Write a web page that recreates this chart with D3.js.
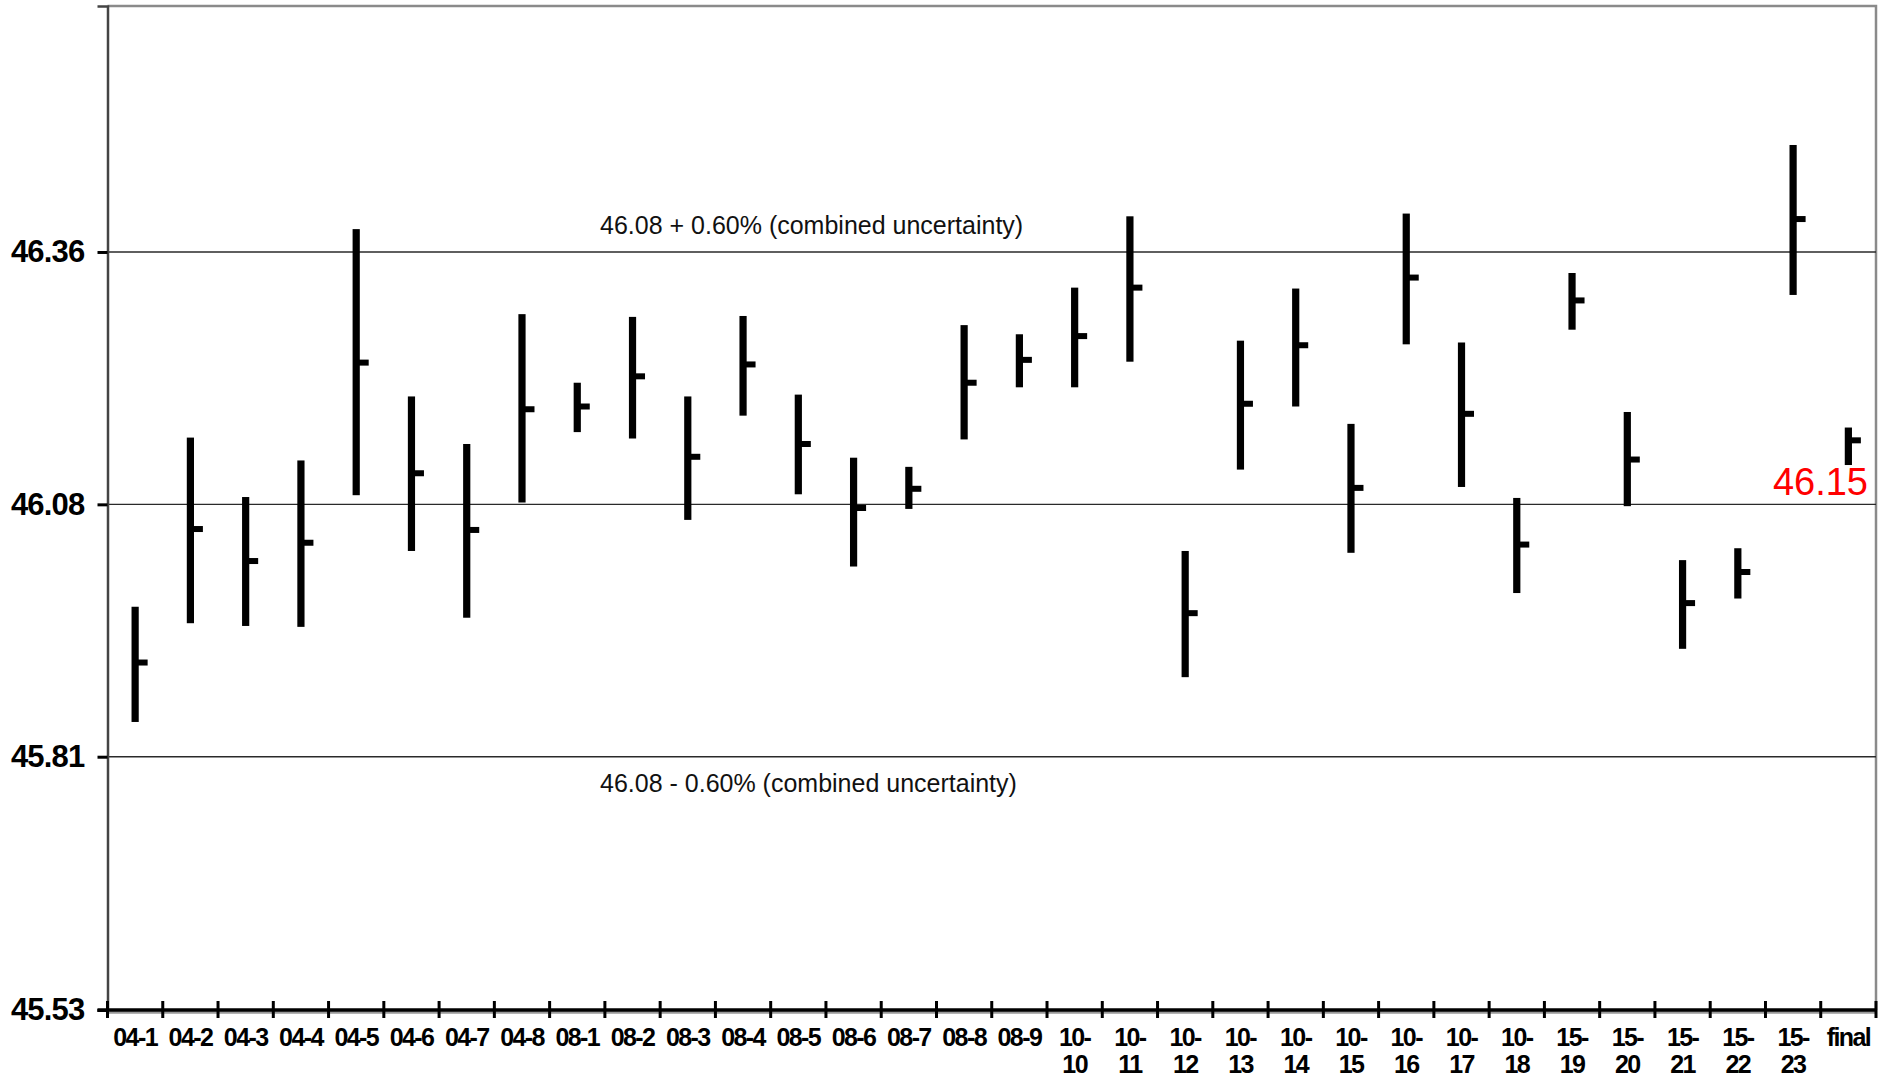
<!DOCTYPE html>
<html>
<head>
<meta charset="utf-8">
<script src="https://cdn.jsdelivr.net/npm/d3@7/dist/d3.min.js"></script>
<style>
  html, body { margin: 0; padding: 0; background: #fff; }
  svg { display: block; font-family: "Liberation Sans", Arial, sans-serif; }
</style>
</head>
<body>
<svg id="chart" width="1894" height="1078"></svg>
<script>
// Sample runs: high / low / close for each run, plus the final result
const categories = ["04-1","04-2","04-3","04-4","04-5","04-6","04-7","04-8",
  "08-1","08-2","08-3","08-4","08-5","08-6","08-7","08-8","08-9",
  "10-10","10-11","10-12","10-13","10-14","10-15","10-16","10-17","10-18",
  "15-19","15-20","15-21","15-22","15-23","final"];

const highs = [45.968, 46.153, 46.088, 46.128, 46.381, 46.198, 46.146, 46.288,
  46.213, 46.285, 46.198, 46.286, 46.200, 46.131, 46.121, 46.276, 46.266,
  46.317, 46.395, 46.029, 46.259, 46.316, 46.168, 46.398, 46.257, 46.087,
  46.333, 46.181, 46.019, 46.032, 46.473, 46.164];

const lows = [45.842, 45.950, 45.947, 45.946, 46.090, 46.029, 45.956, 46.082,
  46.159, 46.152, 46.063, 46.177, 46.091, 46.012, 46.075, 46.151, 46.208,
  46.208, 46.236, 45.891, 46.118, 46.187, 46.027, 46.255, 46.099, 45.983,
  46.271, 46.078, 45.922, 45.977, 46.309, 46.123];

const closes = [45.907, 46.053, 46.018, 46.038, 46.235, 46.114, 46.052, 46.184,
  46.187, 46.220, 46.132, 46.233, 46.146, 46.076, 46.097, 46.213, 46.238,
  46.264, 46.317, 45.961, 46.190, 46.254, 46.098, 46.328, 46.179, 46.036,
  46.303, 46.129, 45.972, 46.006, 46.392, 46.150];

// Reference value and its combined uncertainty band
const referenceValue = 46.08;
const uncertaintyPct = 0.60;

// Value axis
const yDomain = [45.527, 46.625];
const yTicks = [45.527, 45.804, 46.08, 46.356];
const yTickLabels = ["45.53", "45.81", "46.08", "46.36"];

const svg = d3.select("#chart");
const W = 1894, H = 1078;
const margin = { top: 6, right: 18, bottom: 68, left: 107.5 };
const plotL = margin.left, plotR = W - margin.right;
const plotT = margin.top, plotB = H - margin.bottom;

const x = d3.scaleBand().domain(categories).range([plotL, plotR]).padding(0);
const y = d3.scaleLinear().domain(yDomain).range([plotB, plotT]);
const cx = d => x(d) + x.bandwidth() / 2;

// Plot frame (top and right)
svg.append("path")
  .attr("d", `M${plotL},${plotT}H${plotR}V${plotB}`)
  .attr("fill", "none").attr("stroke", "#8a8a8a").attr("stroke-width", 2.5);

// Horizontal gridlines at the value-axis ticks
svg.append("g").selectAll("line").data(yTicks).join("line")
  .attr("x1", plotL).attr("x2", plotR)
  .attr("y1", d => y(d)).attr("y2", d => y(d))
  .attr("stroke", "#2a2a2a").attr("stroke-width", 1.4);

// Left axis
const yAxis = svg.append("g")
  .attr("transform", `translate(${plotL},0)`)
  .call(d3.axisLeft(y).tickValues(yTicks)
    .tickFormat((d, i) => yTickLabels[i]).tickSize(10).tickPadding(13));
yAxis.select(".domain").attr("stroke", "#444").attr("stroke-width", 2.5);
yAxis.selectAll(".tick line").attr("stroke", "#000").attr("stroke-width", 3);
yAxis.selectAll(".tick text")
  .attr("font-family", "'Liberation Sans', Arial, sans-serif")
  .attr("font-size", 31).attr("font-weight", "bold")
  .attr("letter-spacing", "-0.8px").attr("fill", "#000");

// Uncertainty band labels
const upperVal = yTicks[3], lowerVal = yTicks[1];
svg.append("text")
  .attr("x", 600).attr("y", y(upperVal) - 18)
  .attr("font-size", 25).attr("fill", "#111")
  .text(`${referenceValue.toFixed(2)} + ${uncertaintyPct.toFixed(2)}% (combined uncertainty)`);
svg.append("text")
  .attr("x", 600).attr("y", y(lowerVal) + 35)
  .attr("font-size", 25).attr("fill", "#111")
  .text(`${referenceValue.toFixed(2)} - ${uncertaintyPct.toFixed(2)}% (combined uncertainty)`);

// High-low bars with a close tick on the right
const rows = categories.map((c, i) => ({ c, hi: highs[i], lo: lows[i], cl: closes[i] }));
const barW = 7.2, tickLen = 12.5, tickH = 6;
const g = svg.append("g");
g.selectAll("rect.hl").data(rows).join("rect").attr("class", "hl")
  .attr("x", d => cx(d.c) - barW / 2)
  .attr("y", d => y(d.hi))
  .attr("width", barW)
  .attr("height", d => y(d.lo) - y(d.hi))
  .attr("fill", "#000");
g.selectAll("rect.cl").data(rows).join("rect").attr("class", "cl")
  .attr("x", d => cx(d.c))
  .attr("y", d => y(d.cl) - tickH / 2)
  .attr("width", tickLen)
  .attr("height", tickH)
  .attr("fill", "#000");

// Final result label
const last = rows[rows.length - 1];
svg.append("text")
  .attr("x", 1868).attr("y", 495)
  .attr("text-anchor", "end")
  .attr("font-size", 38).attr("fill", "#ff0000")
  .text(last.cl.toFixed(2));

// Bottom axis: thick baseline, ticks at category boundaries
svg.append("line")
  .attr("x1", plotL).attr("x2", plotR)
  .attr("y1", plotB + 2.5).attr("y2", plotB + 2.5)
  .attr("stroke", "#999").attr("stroke-width", 2.5);
svg.append("line")
  .attr("x1", plotL - 10).attr("x2", plotR)
  .attr("y1", plotB).attr("y2", plotB)
  .attr("stroke", "#000").attr("stroke-width", 3.5);
const bounds = d3.range(categories.length + 1).map(i => plotL + i * x.step());
svg.append("g").selectAll("line").data(bounds).join("line")
  .attr("x1", d => d).attr("x2", d => d)
  .attr("y1", plotB - 9).attr("y2", plotB + 8)
  .attr("stroke", "#000").attr("stroke-width", 3);

// Category labels (long run names wrap after the hyphen)
const xl = svg.append("g")
  .attr("font-size", 25).attr("font-weight", "bold")
  .attr("letter-spacing", "-1.6px").attr("text-anchor", "middle");
rows.forEach(d => {
  const h = d.c.indexOf("-");
  const lines = (h >= 0 && d.c.length > 4) ? [d.c.slice(0, h + 1), d.c.slice(h + 1)] : [d.c];
  const t = xl.append("text").attr("x", cx(d.c)).attr("y", 1046);
  lines.forEach((s, k) => {
    t.append("tspan").attr("x", cx(d.c)).attr("dy", k === 0 ? 0 : 27).text(s);
  });
});
</script>
</body>
</html>
